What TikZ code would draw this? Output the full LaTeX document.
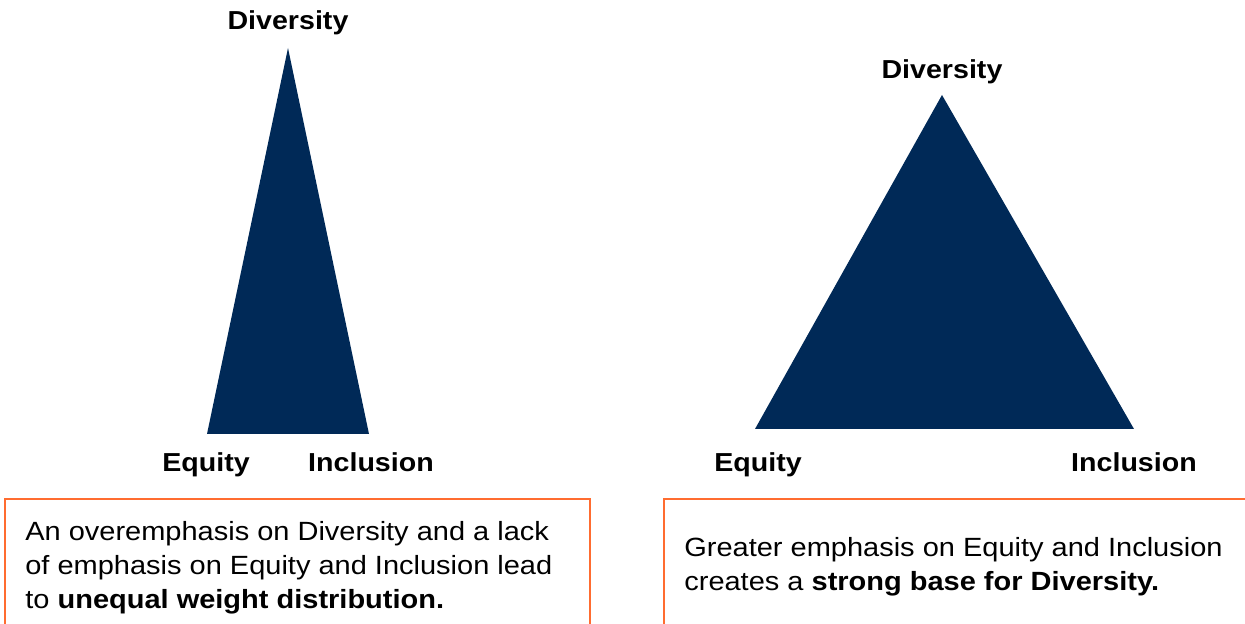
\documentclass[tikz,border=0pt]{standalone}
\usepackage{fontspec}
\setmainfont{Liberation Sans}[FakeStretch=1.1]
\usepackage{tikz}
\definecolor{navy}{RGB}{0,41,87}
\definecolor{accent}{RGB}{255,108,48}
\tikzset{
    corner/.style={font=\fontsize{14.8}{17}\selectfont\bfseries, inner sep=0pt},
    note/.style={font=\fontsize{15}{19.3}\selectfont, align=left, anchor=west, inner sep=0pt},
    frame/.style={draw=accent, line width=1.1pt}
}

\begin{document}
\begin{tikzpicture}[x=0.02cm,y=-0.02cm]
    \useasboundingbox (0,0) rectangle (1245,624);
    % unequal triangle
    \coordinate (lD) at (288,48);
    \coordinate (lE) at (207,434);
    \coordinate (lI) at (369,434);
    \fill[navy] (lD) -- (lE) -- (lI) -- cycle;
    \node[corner] (ldiv) at (288,23) {Diversity};
    \node[corner,anchor=base] (lequ) at (206,472) {Equity};
    \node[corner,anchor=base] (linc) at (371,472) {Inclusion};
    % balanced triangle
    \coordinate (rD) at (942,95);
    \coordinate (rE) at (755,429);
    \coordinate (rI) at (1134,429);
    \fill[navy] (rD) -- (rE) -- (rI) -- cycle;
    \node[corner] (rdiv) at (942,72) {Diversity};
    \node[corner,anchor=base] (requ) at (758,472) {Equity};
    \node[corner,anchor=base] (rinc) at (1134,472) {Inclusion};
    % text boxes
    \draw[frame] (5,640) -- (5,499) -- (590,499) -- (590,640);
    \draw[frame] (664,640) -- (664,499) -- (1260,499);
    \node[note] (lnote) at (25,568) {An overemphasis on Diversity and a lack\\of emphasis on Equity and Inclusion lead\\to \textbf{unequal weight distribution.}};
    \node[note] (rnote) at (684,567) {Greater emphasis on Equity and Inclusion\\creates a \textbf{strong base for Diversity.}};
\end{tikzpicture}
\end{document}
